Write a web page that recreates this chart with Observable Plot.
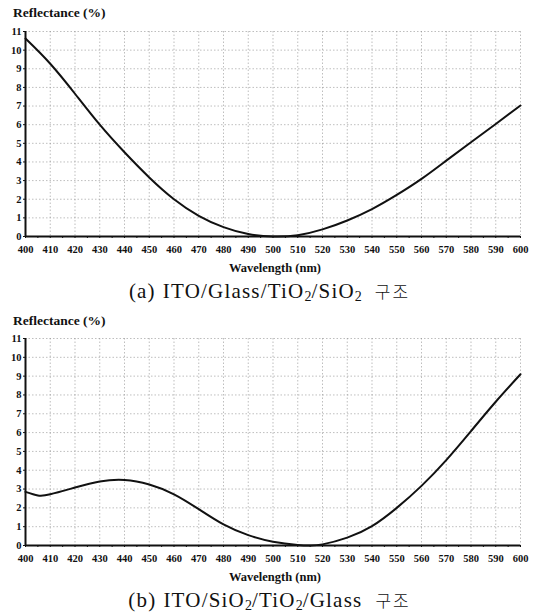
<!DOCTYPE html>
<html>
<head>
<meta charset="utf-8">
<script src="https://cdn.jsdelivr.net/npm/d3@7"></script>
<script src="https://cdn.jsdelivr.net/npm/@observablehq/plot@0.6"></script>
<style>
  html, body { margin: 0; padding: 0; background: #fff; }
  #wrap { position: relative; width: 539px; height: 615px; overflow: hidden; font-family: "Liberation Serif", serif; }
  .ylab { position: absolute; left: 13px; font-weight: bold; font-size: 13.5px; color: #111; line-height: 16px; }
  .xlab { position: absolute; left: 0; width: 550px; text-align: center; font-weight: bold; font-size: 12.5px; color: #111; line-height: 15px; }
  .cap { position: absolute; left: 0; width: 539px; text-align: center; font-size: 21px; letter-spacing: 1.2px; color: #111; line-height: 24px; }
  .cap sub { font-size: 14px; vertical-align: -3px; letter-spacing: 0; }
  .cap .ko { font-family: "Noto Sans CJK KR", sans-serif; font-weight: 300; font-size: 17px; margin-left: 13px; letter-spacing: 2px; }
  .cap .pre { margin-right: 7px; }
  .plot { position: absolute; left: 0; }
</style>
</head>
<body>
<div id="wrap">
  <div class="ylab" style="top:5px">Reflectance (%)</div>
  <div class="plot" id="pa" style="top:0px"></div>
  <div class="xlab" style="top:261px">Wavelength (nm)</div>
  <div class="cap" style="top:279px"><span class="pre">(a)</span>ITO/Glass/TiO<sub>2</sub>/SiO<sub>2</sub><span class="ko">구조</span></div>

  <div class="ylab" style="top:313px">Reflectance (%)</div>
  <div class="plot" id="pb" style="top:307px"></div>
  <div class="xlab" style="top:570px">Wavelength (nm)</div>
  <div class="cap" style="top:588px"><span class="pre">(b)</span>ITO/SiO<sub>2</sub>/TiO<sub>2</sub>/Glass<span class="ko">구조</span></div>
</div>
<script>
// Data
const wavelengthsA = [400,410,420,430,440,450,460,470,480,490,500,510,520,530,540,550,560,570,580,590,600];
const reflectanceA = [10.62,9.27,7.66,6.0,4.52,3.17,2.0,1.11,0.5,0.13,0.0,0.07,0.38,0.86,1.47,2.23,3.09,4.07,5.06,6.04,7.03];

const wavelengthsB = [400,405,410,420,430,440,450,460,470,480,490,500,510,515,520,530,540,550,560,570,580,590,600];
const reflectanceB = [2.85,2.66,2.72,3.08,3.4,3.48,3.24,2.72,1.93,1.12,0.55,0.2,0.03,0.0,0.06,0.42,1.03,2.0,3.17,4.54,6.08,7.64,9.1];

const xTicks = [400,410,420,430,440,450,460,470,480,490,500,510,520,530,540,550,560,570,580,590,600];
const xMinorTicks = d3.range(400, 601, 5);
const yTicks = [0,1,2,3,4,5,6,7,8,9,10,11];

function makeChart(wl, refl, innerH) {
  const data = wl.map((w, i) => ({w, r: refl[i]}));
  return Plot.plot({
    width: 539,
    height: 31 + innerH + 26,
    marginTop: 31,
    marginBottom: 26,
    marginLeft: 25,
    marginRight: 19,
    style: {fontFamily: "Liberation Serif, serif", fontWeight: "bold", fontSize: "10.5px", color: "#111", background: "transparent"},
    x: {domain: [400, 600]},
    y: {domain: [0, 11]},
    marks: [
      Plot.gridX(xTicks, {stroke: "#888", strokeOpacity: 0.55, strokeDasharray: "1.5,2"}),
      Plot.gridY(yTicks, {stroke: "#888", strokeOpacity: 0.55, strokeDasharray: "1.5,2"}),
      Plot.axisX(xMinorTicks, {tickSize: 2, text: null, label: null, tickPadding: 0}),
      Plot.axisX(xTicks, {tickSize: 0, tickPadding: 9, label: null, fontWeight: "bold"}),
      Plot.axisY(yTicks, {tickSize: 2, tickPadding: 2, label: null, fontWeight: "bold"}),
      Plot.ruleY([0], {stroke: "#111", strokeWidth: 2}),
      Plot.ruleX([400], {stroke: "#111", strokeWidth: 2}),
      Plot.line(data, {x: "w", y: "r", stroke: "#111", strokeWidth: 2, curve: "natural"})
    ]
  });
}

document.getElementById("pa").append(makeChart(wavelengthsA, reflectanceA, 205));
document.getElementById("pb").append(makeChart(wavelengthsB, reflectanceB, 207));
</script>
</body>
</html>
